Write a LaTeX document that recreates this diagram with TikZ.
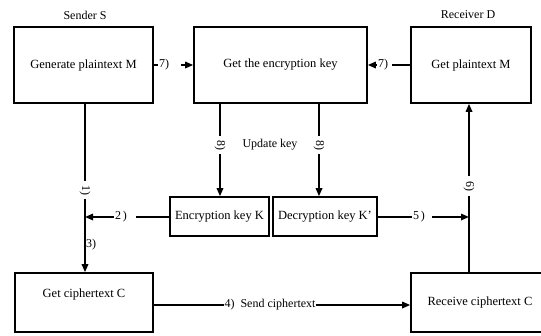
\documentclass[tikz,border=0pt]{standalone}
\usepackage{fontspec}
\setmainfont{Liberation Serif}
\usetikzlibrary{arrows.meta,calc}
\begin{document}
\begin{tikzpicture}[x=1pt,y=-1pt,
 box/.style={draw,line width=1.6pt,inner sep=0pt,font=\fontsize{12.5}{14}\selectfont},
 conn/.style={line width=1.6pt},
 arr/.style={conn,-{Triangle[length=8pt,width=6.5pt]}},
 lab/.style={inner sep=1pt,font=\fontsize{12}{14}\selectfont}]
\useasboundingbox (0,0) rectangle (541,335);
\node[box,minimum width=139pt,minimum height=76pt] (A) at (83.5,65) {Generate plaintext M};
\node[box,minimum width=173pt,minimum height=76pt] (B) at (280.5,65) {Get the encryption key};
\node[box,minimum width=120pt,minimum height=76pt] (Cb) at (471,65) {Get plaintext M};
\node[box,minimum width=99pt,minimum height=39pt] (EK) at (219.5,216.5) {Encryption key K};
\node[box,minimum width=104pt,minimum height=39pt] (DK) at (325,216.5) {Decryption key K'};
\node[box,minimum width=138pt,minimum height=59pt] (GC) at (84,302.5) {};
\node[lab,font=\fontsize{12.5}{14}\selectfont] at (84,294) {Get ciphertext C};
\node[box,minimum width=134pt,minimum height=59pt] (RC) at (478,302.5) {};
\node[lab,font=\fontsize{12.5}{14}\selectfont] at (480,302) {Receive ciphertext C};

\node[lab] (sS) at (85,15) {Sender S};
\node[lab] (rD) at (468,15) {Receiver D};
\node[lab] (uk) at (270,145) {Update key};

% 7) arrows
\node[lab] (n7a) at (164,65) {7)};
\draw[conn] (A.east) -- (n7a.west);
\draw[arr] ($(B.west)+(-12,0)$) -- (B.west);
\node[lab] (n7b) at (383,65) {7)};
\draw[arr] (n7b.west) -- (B.east);
\draw[conn] ($(Cb.west)+(-18,0)$) -- (Cb.west);

% 1) and 3)
\node[lab,rotate=-90] (n1) at (85,190) {1)};
\draw[conn] (A.south -| n1) -- ($(n1)+(0,-9)$);
\draw[arr] ($(n1)+(0,9)$) -- (n1 |- GC.north);
\node[lab,anchor=west] (n3) at (85,245) {3)};

% 2)
\coordinate (j2) at (85,217);
\node[lab] (n2) at (121,217) {2\,)};
\draw[conn] (EK.west |- j2) -- ($(n2.east)+(8,0)$);
\draw[arr] (n2.west) -- (j2);

% 8) update key
\node[lab,rotate=-90] (n8a) at (220,145) {8)};
\draw[conn] (B.south -| n8a) -- ($(n8a)+(0,-9)$);
\draw[arr] ($(n8a)+(0,9)$) -- (n8a |- EK.north);
\node[lab,rotate=-90] (n8b) at (319,145) {8)};
\draw[conn] (B.south -| n8b) -- ($(n8b)+(0,-9)$);
\draw[arr] ($(n8b)+(0,9)$) -- (n8b |- DK.north);

% 6) and 5)
\node[lab,rotate=-90] (n6) at (469,186) {6)};
\draw[conn] (RC.north -| n6) -- ($(n6)+(0,10)$);
\draw[arr] ($(n6)+(0,-10)$) -- (n6 |- Cb.south);
\coordinate (j5) at (469,217);
\node[lab] (n5) at (419,217) {5\,)};
\draw[conn] (DK.east |- j5) -- (n5.west);
\draw[arr] ($(n5.east)+(6,0)$) -- (j5);

% 4)
\node[lab,inner sep=0pt] (n4) at (270,305) {4)\ \ Send ciphertext};
\draw[conn] (GC.east |- n4) -- (n4.west);
\draw[arr] (n4.east) -- (RC.west |- n4);
\end{tikzpicture}
\end{document}
